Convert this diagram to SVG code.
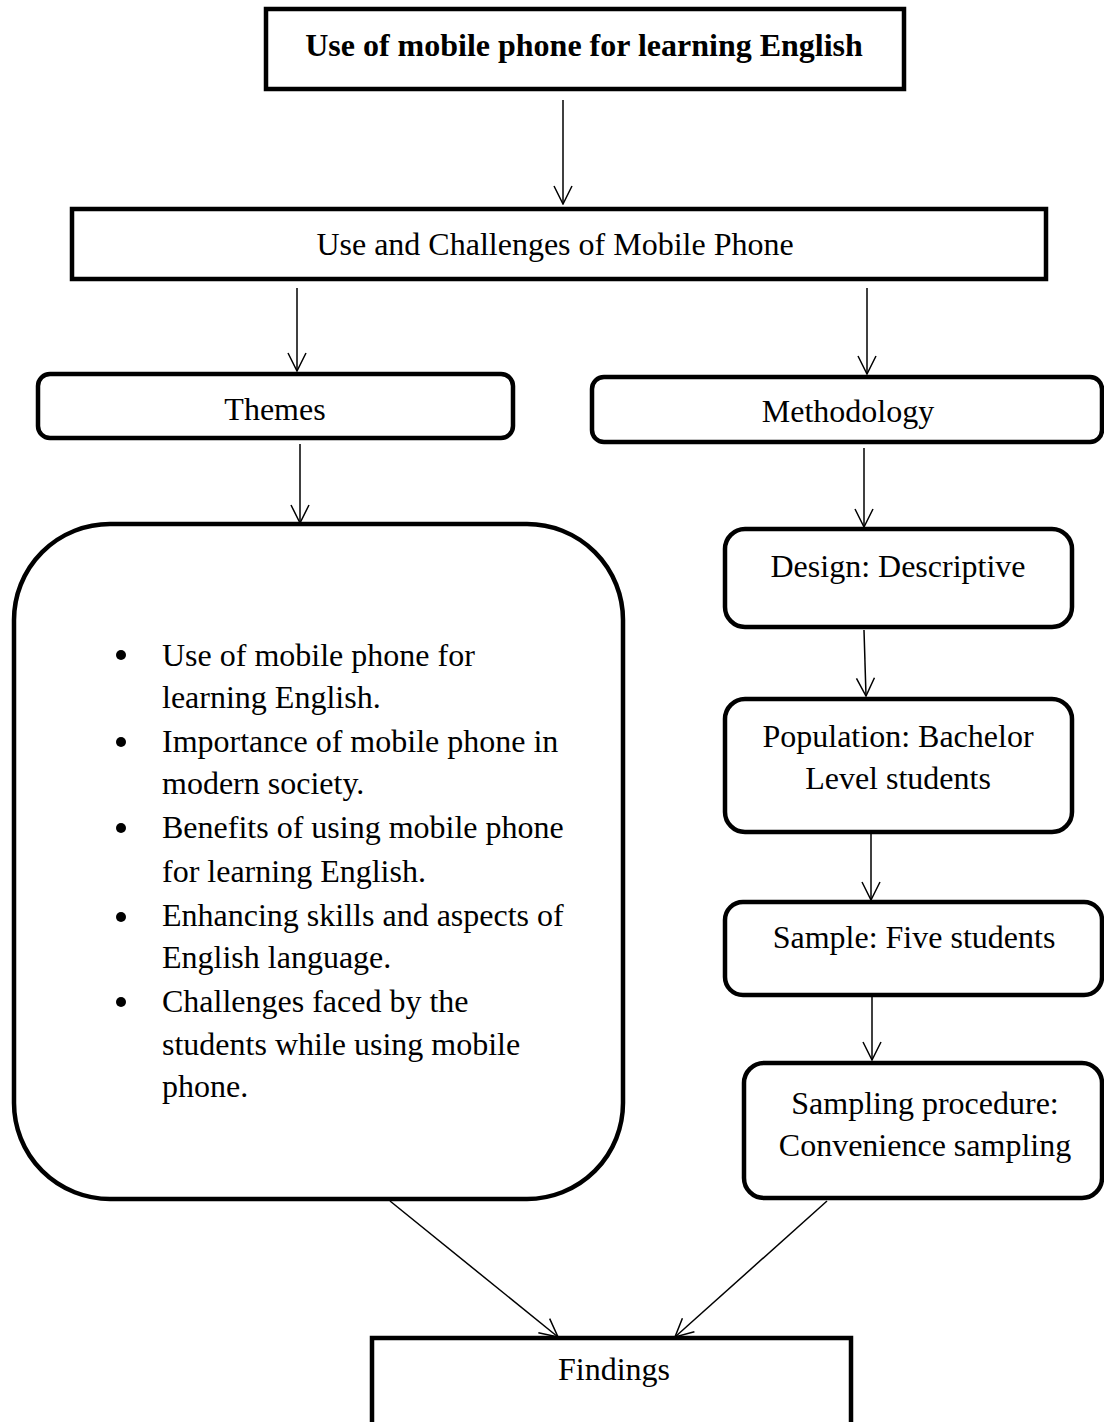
<svg xmlns="http://www.w3.org/2000/svg" width="1104" height="1422" viewBox="0 0 1104 1422">
<style>
.box{fill:#fff;stroke:#000;stroke-width:4.5}
.t{font-family:"Liberation Serif","Times New Roman",serif;font-size:32px;fill:#000}
.c{text-anchor:middle}
.b{font-weight:bold}
.con{stroke:#000;stroke-width:1.5;fill:none;marker-end:url(#ah)}
</style>
<defs>
<marker id="ah" viewBox="0 0 20 20" refX="19" refY="10" markerWidth="20" markerHeight="20" markerUnits="userSpaceOnUse" orient="auto">
<path d="M1,1 L19,10 L1,19" fill="none" stroke="#000" stroke-width="1.5"/>
</marker>
</defs>
<rect width="1104" height="1422" fill="#fff"/>
<g id="connectors">
<line class="con" x1="563" y1="100" x2="563" y2="204"/>
<line class="con" x1="297" y1="288" x2="297" y2="371"/>
<line class="con" x1="867" y1="288" x2="867" y2="374"/>
<line class="con" x1="300" y1="444" x2="300" y2="523"/>
<line class="con" x1="864" y1="448" x2="864" y2="527"/>
<line class="con" x1="864" y1="630" x2="866" y2="696"/>
<line class="con" x1="871" y1="834" x2="871" y2="900"/>
<line class="con" x1="872" y1="997" x2="872" y2="1060"/>
<line class="con" x1="390" y1="1201" x2="558" y2="1337"/>
<line class="con" x1="827" y1="1201" x2="675" y2="1337"/>
</g>
<g id="n-title">
<rect class="box" x="266" y="9" width="638" height="80"/>
<text class="t c b" x="584" y="56">Use of mobile phone for learning English</text>
</g>
<g id="n-usechallenges">
<rect class="box" x="72" y="209" width="974" height="70"/>
<text class="t c" x="555" y="255">Use and Challenges of Mobile Phone</text>
</g>
<g id="n-themes">
<rect class="box" x="38" y="374" width="475" height="64" rx="12" ry="12"/>
<text class="t c" x="275" y="420">Themes</text>
</g>
<g id="n-methodology">
<rect class="box" x="592" y="377" width="510" height="65" rx="12" ry="12"/>
<text class="t c" x="848" y="422">Methodology</text>
</g>
<g id="n-themelist">
<rect class="box" x="14" y="524" width="609" height="675" rx="96" ry="96"/>
<circle cx="121" cy="655" r="5"/>
<circle cx="121" cy="742" r="5"/>
<circle cx="121" cy="828" r="5"/>
<circle cx="121" cy="917" r="5"/>
<circle cx="121" cy="1002" r="5"/>
<text class="t" x="162" y="666">Use of mobile phone for</text>
<text class="t" x="162" y="708">learning English.</text>
<text class="t" x="162" y="752">Importance of mobile phone in</text>
<text class="t" x="162" y="794">modern society.</text>
<text class="t" x="162" y="838">Benefits of using mobile phone</text>
<text class="t" x="162" y="882">for learning English.</text>
<text class="t" x="162" y="926">Enhancing skills and aspects of</text>
<text class="t" x="162" y="968">English language.</text>
<text class="t" x="162" y="1012">Challenges faced by the</text>
<text class="t" x="162" y="1055">students while using mobile</text>
<text class="t" x="162" y="1097">phone.</text>
</g>
<g id="n-design">
<rect class="box" x="725" y="529" width="347" height="98" rx="20" ry="20"/>
<text class="t c" x="898" y="577">Design: Descriptive</text>
</g>
<g id="n-population">
<rect class="box" x="725" y="699" width="347" height="133" rx="20" ry="20"/>
<text class="t c" x="898" y="747">Population: Bachelor</text>
<text class="t c" x="898" y="789">Level students</text>
</g>
<g id="n-sample">
<rect class="box" x="725" y="902" width="377" height="93" rx="18" ry="18"/>
<text class="t c" x="914" y="948">Sample: Five students</text>
</g>
<g id="n-sampling">
<rect class="box" x="744" y="1063" width="358" height="135" rx="20" ry="20"/>
<text class="t c" x="925" y="1114">Sampling procedure:</text>
<text class="t c" x="925" y="1156">Convenience sampling</text>
</g>
<g id="n-findings">
<rect class="box" x="372" y="1338" width="479" height="120"/>
<text class="t c" x="614" y="1380">Findings</text>
</g>
</svg>
